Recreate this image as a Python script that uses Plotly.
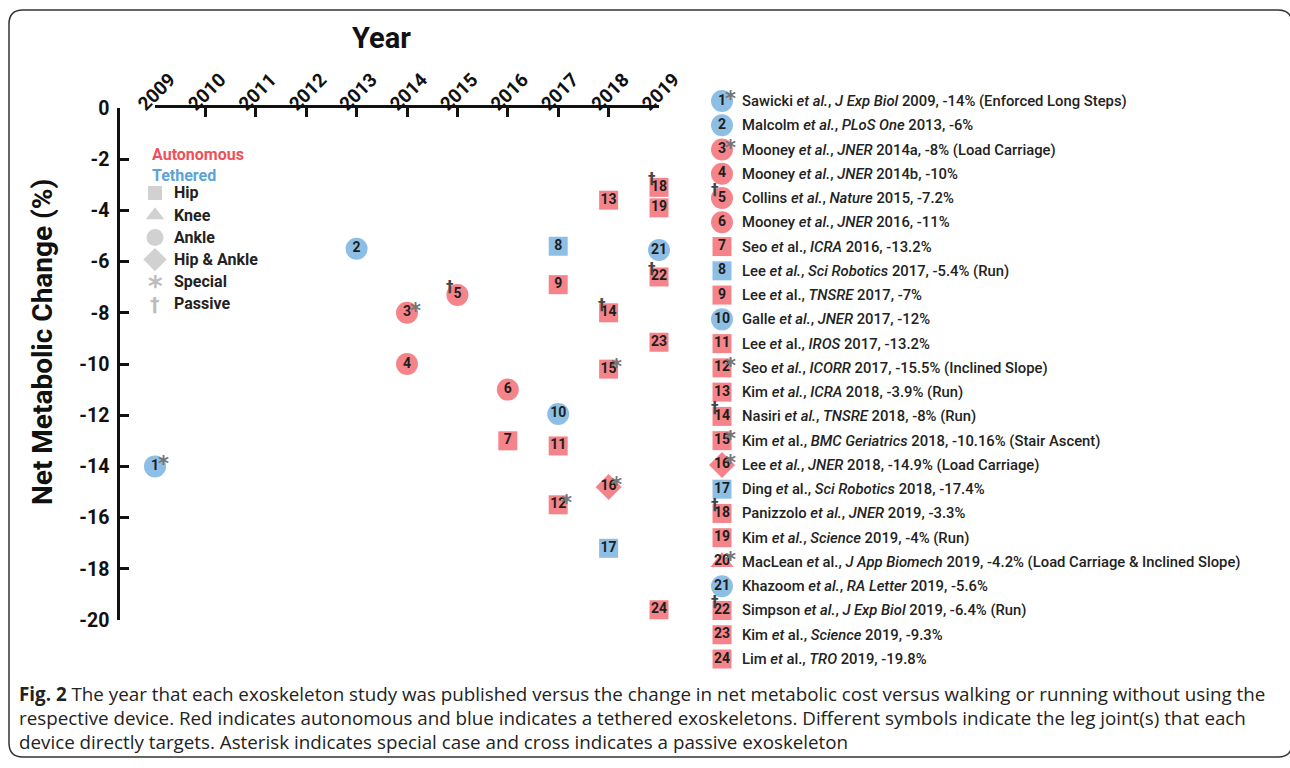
import plotly.graph_objects as go

# ---------------- data ----------------
ids = list(range(1, 25))
years = [2009, 2013, 2014, 2014, 2015, 2016, 2016, 2017, 2017, 2017, 2017, 2017,
         2018, 2018, 2018, 2018, 2018, 2019, 2019, 2019.12, 2019, 2019, 2019, 2019]
changes = [-14.0, -5.5, -8.0, -10.0, -7.3, -11.0, -13.0, -5.4, -6.9, -11.95, -13.2, -15.5,
           -3.6, -8.0, -10.2, -14.8, -17.2, -3.1, -3.9, -4.4, -5.55, -6.6, -9.15, -19.6]
kinds = ["T", "T", "A", "A", "A", "A", "A", "T", "A", "T", "A", "A",
         "A", "A", "A", "A", "T", "A", "A", "A", "T", "A", "A", "A"]
joints = ["Ankle", "Ankle", "Ankle", "Ankle", "Ankle", "Ankle", "Hip", "Hip", "Hip", "Ankle", "Hip", "Hip",
          "Hip", "Hip", "Hip", "Hip & Ankle", "Hip", "Hip", "Hip", "Knee", "Ankle", "Hip", "Hip", "Hip"]
special = [1, 0, 1, 0, 0, 0, 0, 0, 0, 0, 0, 1, 0, 0, 1, 1, 0, 0, 0, 1, 0, 0, 0, 0]
passive = [0, 0, 0, 0, 1, 0, 0, 0, 0, 0, 0, 0, 0, 1, 0, 0, 0, 1, 0, 0, 0, 1, 0, 0]

authors = ["Sawicki", "Malcolm", "Mooney", "Mooney", "Collins", "Mooney", "Seo", "Lee", "Lee",
           "Galle", "Lee", "Seo", "Kim", "Nasiri", "Kim", "Lee", "Ding", "Panizzolo", "Kim",
           "MacLean", "Khazoom", "Simpson", "Kim", "Lim"]
etal_italic = [1, 1, 1, 1, 1, 1, 0, 1, 0, 1, 0, 1, 1, 1, 0, 1, 0, 1, 1, 0, 1, 1, 0, 0]
journals = ["J Exp Biol", "PLoS One", "JNER", "JNER", "Nature", "JNER", "ICRA", "Sci Robotics",
            "TNSRE", "JNER", "IROS", "ICORR", "ICRA", "TNSRE", "BMC Geriatrics", "JNER",
            "Sci Robotics", "JNER", "Science", "J App Biomech", "RA Letter", "J Exp Biol",
            "Science", "TRO"]
pub_years = ["2009", "2013", "2014a", "2014b", "2015", "2016", "2016", "2017", "2017", "2017",
             "2017", "2017", "2018", "2018", "2018", "2018", "2018", "2019", "2019", "2019",
             "2019", "2019", "2019", "2019"]
reported = ["-14%", "-6%", "-8%", "-10%", "-7.2%", "-11%", "-13.2%", "-5.4%", "-7%", "-12%",
            "-13.2%", "-15.5%", "-3.9%", "-8%", "-10.16%", "-14.9%", "-17.4%", "-3.3%", "-4%",
            "-4.2%", "-5.6%", "-6.4%", "-9.3%", "-19.8%"]
notes = ["(Enforced Long Steps)", "", "(Load Carriage)", "", "", "", "", "(Run)", "", "", "",
         "(Inclined Slope)", "(Run)", "(Run)", "(Stair Ascent)", "(Load Carriage)", "", "",
         "(Run)", "(Load Carriage & Inclined Slope)", "", "(Run)", "", ""]

year_ticks = list(range(2009, 2020))
y_ticks = list(range(0, -21, -2))
key_labels = ["Hip", "Knee", "Ankle", "Hip & Ankle", "Special", "Passive"]

# ---------------- styles ----------------
W, H = 1290, 768
RED = "#EF5059"
BLUE = "#5CA3DA"
GREY = "#BDBDBD"
FONT = "Roboto"
sym_map = {"Hip": "square", "Knee": "triangle-up", "Ankle": "circle", "Hip & Ankle": "diamond"}
size_map = {"Hip": 19, "Knee": 20, "Ankle": 22, "Hip & Ankle": 20}
col_map = {"A": RED, "T": BLUE}


def px_x(p):
    return p / W


def px_y(p):
    return 1 - p / H


fig = go.Figure()

# main scatter
fig.add_trace(go.Scatter(
    x=years, y=changes, mode="markers+text", text=[str(i) for i in ids],
    textposition="middle center",
    textfont=dict(family=FONT, size=14, color="#1e1e1e", weight="bold"),
    marker=dict(symbol=[sym_map[j] for j in joints], size=[size_map[j] for j in joints],
                color=[col_map[k] for k in kinds], line=dict(width=0)),
    cliponaxis=False, showlegend=False, hoverinfo="skip", xaxis="x", yaxis="y"))

# right-hand numbered list
fig.add_trace(go.Scatter(
    x=[0] * len(ids), y=ids, mode="markers+text", text=[str(i) for i in ids],
    textposition="middle center",
    textfont=dict(family=FONT, size=14, color="#1e1e1e", weight="bold"),
    marker=dict(symbol=[sym_map[j] for j in joints], size=[size_map[j] for j in joints],
                color=[col_map[k] for k in kinds], line=dict(width=0)),
    cliponaxis=False, showlegend=False, hoverinfo="skip", xaxis="x2", yaxis="y2"))

# key (joint symbols)
fig.add_trace(go.Scatter(
    x=[0, 0, 0, 0], y=key_labels[:4], mode="markers",
    marker=dict(symbol=[sym_map[j] for j in key_labels[:4]], size=[14, 16, 17, 18],
                color=GREY, line=dict(width=0)),
    cliponaxis=False, showlegend=False, hoverinfo="skip", xaxis="x3", yaxis="y3"))

annotations = []


def overlays(xs, ys, xref, yref):
    out = []
    for xv, yv, s, p in zip(xs, ys, special, passive):
        if s:
            out.append(dict(x=xv, y=yv, xref=xref, yref=yref, text="*", showarrow=False,
                            xanchor="center", yanchor="middle", xshift=8, yshift=2,
                            font=dict(family="DejaVu Sans", size=21, color="#757575", weight="bold")))
        if p:
            out.append(dict(x=xv, y=yv, xref=xref, yref=yref, text="†", showarrow=False,
                            xanchor="center", yanchor="middle", xshift=-7, yshift=8,
                            font=dict(family="DejaVu Sans", size=15, color="#444444", weight="bold")))
    return out


annotations += overlays(years, changes, "x", "y")
annotations += overlays([0] * len(ids), ids, "x2", "y2")

# list labels
for i, a, ei, j, py, r, n in zip(ids, authors, etal_italic, journals, pub_years, reported, notes):
    etal = "<i>et al.</i>" if ei else "<i>et</i> al."
    txt = f"{a} {etal}, <i>{j}</i> {py}, {r}" + (f" {n}" if n else "")
    annotations.append(dict(x=px_x(740), y=i, xref="paper", yref="y2", text=txt,
                            showarrow=False, xanchor="left", yanchor="middle",
                            font=dict(family=FONT, size=14.8, color="#222222", weight=500)))

# key labels
for lab in key_labels:
    annotations.append(dict(x=px_x(172), y=lab, xref="paper", yref="y3", text=lab,
                            showarrow=False, xanchor="left", yanchor="middle",
                            font=dict(family=FONT, size=16, color="#222222", weight="bold")))
annotations.append(dict(x=0, y="Special", xref="x3", yref="y3", text="*", showarrow=False,
                        xanchor="center", yanchor="middle", yshift=-5,
                        font=dict(family="DejaVu Sans", size=28, color=GREY, weight="bold")))
annotations.append(dict(x=0, y="Passive", xref="x3", yref="y3", text="†", showarrow=False,
                        xanchor="center", yanchor="middle",
                        font=dict(family="DejaVu Sans", size=19, color=GREY, weight="bold")))
annotations.append(dict(x=px_x(150), y=px_y(155), xref="paper", yref="paper", text="Autonomous",
                        showarrow=False, xanchor="left", yanchor="middle",
                        font=dict(family=FONT, size=16, color=RED, weight="bold")))
annotations.append(dict(x=px_x(150), y=px_y(175), xref="paper", yref="paper", text="Tethered",
                        showarrow=False, xanchor="left", yanchor="middle",
                        font=dict(family=FONT, size=16, color=BLUE, weight="bold")))

# axis titles
annotations.append(dict(x=px_x(381), y=px_y(38), xref="paper", yref="paper", text="Year",
                        showarrow=False, xanchor="center", yanchor="middle",
                        font=dict(family=FONT, size=29, color="#111111", weight="bold")))
annotations.append(dict(x=px_x(42), y=px_y(342), xref="paper", yref="paper",
                        text="Net Metabolic Change (%)", textangle=-90, showarrow=False,
                        xanchor="center", yanchor="middle",
                        font=dict(family=FONT, size=28, color="#111111", weight="bold")))

# caption
cap = ["<b>Fig. 2</b> The year that each exoskeleton study was published versus the change in net metabolic cost versus walking or running without using the",
       "respective device. Red indicates autonomous and blue indicates a tethered exoskeletons. Different symbols indicate the leg joint(s) that each",
       "device directly targets. Asterisk indicates special case and cross indicates a passive exoskeleton"]
for k, line in enumerate(cap):
    annotations.append(dict(x=px_x(17), y=px_y(694 + 24 * k), xref="paper", yref="paper", text=line,
                            showarrow=False, xanchor="left", yanchor="middle",
                            font=dict(family="Open Sans", size=18.8, color="#222222")))

# rounded border
x0, y0, x1, y1, r = px_x(9), px_y(10), px_x(1292), px_y(757), 14
rx, ry = r / W, r / H
path = (f"M{x0 + rx},{y0} L{x1 - rx},{y0} Q{x1},{y0} {x1},{y0 - ry} "
        f"L{x1},{y1 + ry} Q{x1},{y1} {x1 - rx},{y1} L{x0 + rx},{y1} Q{x0},{y1} {x0},{y1 + ry} "
        f"L{x0},{y0 - ry} Q{x0},{y0} {x0 + rx},{y0} Z")
shapes = [dict(type="path", path=path, xref="paper", yref="paper",
               line=dict(color="#333333", width=1.5))]

fig.update_layout(
    width=W, height=H, margin=dict(l=0, r=0, t=0, b=0),
    paper_bgcolor="white", plot_bgcolor="rgba(0,0,0,0)",
    annotations=annotations, shapes=shapes,
    xaxis=dict(domain=[px_x(155), px_x(659)], range=[2009, 2019], side="top", anchor="y",
               tickvals=year_ticks, ticktext=[str(v) for v in year_ticks], tickangle=-45,
               ticks="inside", ticklen=9, tickwidth=2.5, tickcolor="#111111",
               showline=True, linewidth=2.5, linecolor="#111111", showgrid=False, zeroline=False,
               tickfont=dict(family=FONT, size=19, color="#111111", weight="bold"),
               ticklabelshift=-16, ticklabelstandoff=-17,
               automargin=False),
    yaxis=dict(domain=[px_y(620), px_y(108)], range=[-20, 0], anchor="free", position=px_x(118),
               tickvals=y_ticks, ticktext=[str(v) for v in y_ticks],
               ticks="inside", ticklen=9, tickwidth=2.5, tickcolor="#111111",
               showline=True, linewidth=2.5, linecolor="#111111", showgrid=False, zeroline=False,
               tickfont=dict(family=FONT, size=19.5, color="#111111", weight="bold"),
               ticklabelstandoff=4, automargin=False),
    xaxis2=dict(domain=[px_x(712), px_x(732)], range=[-1, 1], anchor="y2", visible=False),
    yaxis2=dict(domain=[px_y(659), px_y(101)], range=[24, 1], anchor="x2", visible=False),
    xaxis3=dict(domain=[px_x(145), px_x(165)], range=[-1, 1], anchor="y3", visible=False),
    yaxis3=dict(domain=[px_y(304), px_y(193)], range=[5, 0], anchor="x3", visible=False,
                type="category", categoryorder="array", categoryarray=key_labels),
)

fig.write_html("out.html", config={"displayModeBar": False},
               post_script="document.body.style.margin='0';document.body.style.overflow='hidden';")
